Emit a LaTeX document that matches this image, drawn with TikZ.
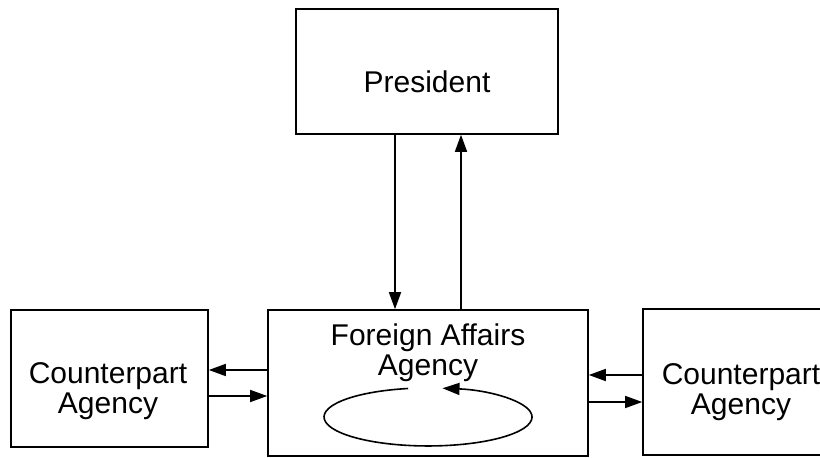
\documentclass[tikz,border=0pt]{standalone}
\usepackage{fontspec}
\setmainfont{Liberation Sans}
\usetikzlibrary{arrows.meta}
\begin{document}
\begin{tikzpicture}[x=1pt,y=1pt,
  box/.style={draw,line width=1.6pt,rectangle,inner sep=0pt},
  lbl/.style={inner sep=0pt,align=center,font=\fontsize{30}{30}\selectfont},
  arr/.style={line width=1.6pt,-{Triangle[length=17pt,width=12pt]}}]
\useasboundingbox (0,0) rectangle (820,458);
\node[box,minimum width=262pt,minimum height=125pt] (pres) at (427,386.5) {};
\node[box,minimum width=320pt,minimum height=146pt] (fa) at (428,75) {};
\node[box,minimum width=197pt,minimum height=137pt] (lc) at (109.5,79.5) {};
\node[box,minimum width=196pt,minimum height=146pt] (rc) at (741,76) {};
\node[lbl,anchor=north] (ptxt) at (427,387) {President};
\node[lbl,anchor=north] (fatxt) at (428,134) {Foreign Affairs\\Agency};
\node[lbl,anchor=north] (lctxt) at (108,96) {Counterpart\\Agency};
\node[lbl,anchor=north] (rctxt) at (741,95) {Counterpart\\Agency};
\draw[arr] ([xshift=-32pt]pres.south) -- ([xshift=-32pt]pres.south |- fa.north);
\draw[arr] ([xshift=34pt]pres.south |- fa.north) -- ([xshift=34pt]pres.south);
\draw[arr] ([yshift=13pt]fa.west) -- ([yshift=13pt]fa.west -| lc.east);
\draw[arr] ([yshift=-13pt]fa.west -| lc.east) -- ([yshift=-13pt]fa.west);
\draw[arr] ([yshift=8pt]fa.east -| rc.west) -- ([yshift=8pt]fa.east);
\draw[arr] ([yshift=-19pt]fa.east) -- ([yshift=-19pt]fa.east -| rc.west);
\draw[arr] ([shift={(-19.8,-5.5)}]fa.center) arc[start angle=101,end angle=442,x radius=104,y radius=29];
\end{tikzpicture}
\end{document}
